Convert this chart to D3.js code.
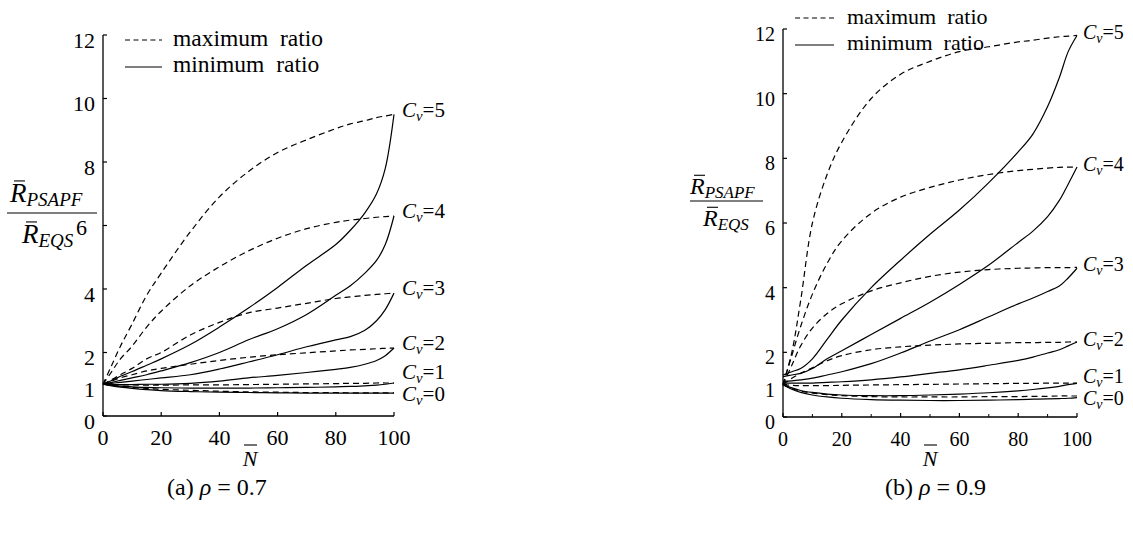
<!DOCTYPE html>
<html><head><meta charset="utf-8">
<script src="https://cdn.jsdelivr.net/npm/d3@7"></script>
<style>
body{margin:0;background:#fff}
svg{display:block;font-family:"Liberation Serif","DejaVu Serif",serif}
text{font-family:"Liberation Serif","DejaVu Serif",serif;fill:#000}
</style>
</head><body>
<svg id="c" width="1133" height="542"></svg>
<script>
// ---------- data ----------
const nGrid = [0,3,6,10,15,20,30,40,50,60,70,80,85,90,94,97,100];
const cvLevels = [5,4,3,2,1,0];

// (a) rho = 0.7 : maximum ratio (dashed)
const aMax5 = [1,1.6,2.2,2.9,3.8,4.5,5.8,6.9,7.7,8.3,8.7,9.05,9.2,9.3,9.4,9.45,9.5];
const aMax4 = [1,1.4,1.8,2.2,2.8,3.3,4.1,4.7,5.2,5.6,5.9,6.1,6.17,6.22,6.26,6.28,6.3];
const aMax3 = [1,1.15,1.3,1.5,1.8,2.0,2.55,2.95,3.25,3.4,3.55,3.7,3.75,3.8,3.83,3.85,3.87];
const aMax2 = [1,1.1,1.2,1.3,1.42,1.5,1.63,1.75,1.85,1.93,1.99,2.05,2.08,2.1,2.12,2.13,2.14];
const aMax1 = [1,0.99,0.98,0.98,0.97,0.97,0.98,0.98,0.99,1.0,1.01,1.02,1.03,1.03,1.04,1.04,1.04];
const aMax0 = [1,0.96,0.93,0.9,0.87,0.84,0.81,0.78,0.76,0.75,0.74,0.74,0.73,0.73,0.73,0.73,0.73];
// (a) rho = 0.7 : minimum ratio (solid)
const aMin5 = [1,1.12,1.25,1.4,1.6,1.8,2.25,2.8,3.4,4.05,4.75,5.4,5.85,6.4,7.0,7.8,9.5];
const aMin4 = [1,1.06,1.12,1.2,1.3,1.42,1.68,2.0,2.4,2.75,3.2,3.8,4.1,4.5,4.9,5.4,6.3];
const aMin3 = [1,1.03,1.06,1.1,1.15,1.2,1.3,1.48,1.7,1.93,2.18,2.4,2.5,2.7,3.0,3.35,3.87];
const aMin2 = [1,0.99,0.99,0.99,1.0,1.0,1.03,1.1,1.2,1.28,1.37,1.47,1.53,1.63,1.75,1.9,2.14];
const aMin1 = [1,0.97,0.94,0.92,0.9,0.89,0.88,0.88,0.88,0.89,0.9,0.92,0.93,0.95,0.97,1.0,1.04];
const aMin0 = [1,0.95,0.91,0.87,0.83,0.8,0.77,0.75,0.74,0.73,0.72,0.72,0.72,0.72,0.72,0.72,0.72];

// (b) rho = 0.9 : maximum ratio (dashed)
const bMax5 = [1,2.0,3.6,6.0,7.5,8.5,9.85,10.6,11.0,11.3,11.45,11.6,11.65,11.72,11.76,11.78,11.8];
const bMax4 = [1,1.9,2.8,3.8,4.75,5.45,6.3,6.8,7.1,7.33,7.5,7.62,7.66,7.7,7.72,7.73,7.73];
const bMax3 = [1,1.6,2.2,2.75,3.2,3.5,3.9,4.15,4.35,4.48,4.56,4.6,4.61,4.62,4.62,4.62,4.63];
const bMax2 = [1,1.2,1.35,1.52,1.74,1.9,2.08,2.17,2.22,2.26,2.28,2.3,2.3,2.31,2.31,2.32,2.32];
const bMax1 = [1,0.98,0.97,0.97,0.97,0.98,0.99,1.0,1.01,1.02,1.03,1.04,1.04,1.05,1.05,1.05,1.05];
const bMax0 = [1,0.88,0.8,0.74,0.69,0.66,0.63,0.62,0.62,0.62,0.63,0.63,0.64,0.64,0.65,0.65,0.65];
// (b) rho = 0.9 : minimum ratio (solid)
const bMin5 = [1.3,1.4,1.5,1.8,2.4,3.0,4.0,4.85,5.65,6.4,7.25,8.2,8.75,9.6,10.5,11.3,11.8];
const bMin4 = [1.25,1.3,1.35,1.5,1.8,2.05,2.55,3.05,3.55,4.1,4.7,5.4,5.75,6.2,6.7,7.2,7.73];
const bMin3 = [1.1,1.12,1.15,1.2,1.3,1.4,1.65,1.98,2.35,2.7,3.1,3.5,3.68,3.88,4.05,4.3,4.6];
const bMin2 = [1.05,1.05,1.05,1.05,1.07,1.09,1.15,1.24,1.35,1.46,1.6,1.75,1.85,1.98,2.08,2.2,2.32];
const bMin1 = [1,0.9,0.82,0.76,0.71,0.68,0.66,0.66,0.68,0.71,0.75,0.81,0.85,0.9,0.95,1.0,1.04];
const bMin0 = [1,0.86,0.76,0.68,0.62,0.58,0.54,0.52,0.51,0.51,0.52,0.54,0.55,0.56,0.57,0.58,0.6];

const xTicks = [0,20,40,60,80,100];
const xMinorTicks = [10,30,50,70,90];
const yTicks = [0,1,2,4,6,8,10,12];
const legendLabels = ["maximum  ratio","minimum  ratio"];
const captionTags = ["(a)","(b)"];
const rhoValues = ["0.7","0.9"];
const numeratorSub = "PSAPF";
const denominatorSub = "EQS";
const xLabel = "N";

// ---------- drawing ----------
const svg = d3.select("#c");

const panels = [
  {
    maxS:[aMax5,aMax4,aMax3,aMax2,aMax1,aMax0], minS:[aMin5,aMin4,aMin3,aMin2,aMin1,aMin0],
    xr:[103,394], yr:[416,35], minor:false, tickFont:22, labFont:21, labX:402, labOff:-4,
    six:-8, sixUp:-3,
    legend:{x0:125,x1:162,tx:173,y1:40,b1:46,y2:67,b2:72,fs:23.5},
    ylab:{nx:10,nb:202,fx0:7,fx1:97,fy:213,dx:22,db:243,fsR:27,fsS:19},
    nlab:{x:250,b:466},
    cap:{x:167,b:495}
  },
  {
    maxS:[bMax5,bMax4,bMax3,bMax2,bMax1,bMax0], minS:[bMin5,bMin4,bMin3,bMin2,bMin1,bMin0],
    xr:[783,1077], yr:[417,29], minor:true, tickFont:20, labFont:20, labX:1083, labOff:-2,
    six:0, sixUp:0,
    legend:{x0:795,x1:834,tx:847,y1:18,b1:24,y2:45,b2:50,fs:22},
    ylab:{nx:690,nb:194,fx0:690,fx1:763,fy:201,dx:703,db:226,fsR:24,fsS:17},
    nlab:{x:930,b:466},
    cap:{x:885,b:495}
  }
];

panels.forEach((p,pi)=>{
  const x = d3.scaleLinear().domain([0,100]).range(p.xr);
  const y = d3.scaleLinear().domain([0,12]).range(p.yr);
  const g = svg.append("g");

  // axes lines
  g.append("line").attr("x1",x(0)).attr("x2",x(0)).attr("y1",y(0)).attr("y2",y(12))
    .attr("stroke","#000").attr("stroke-width",1.3);
  g.append("line").attr("x1",x(0)).attr("x2",x(100)).attr("y1",y(0)).attr("y2",y(0))
    .attr("stroke","#000").attr("stroke-width",1.3);

  // y ticks
  yTicks.forEach(t=>{
    g.append("line").attr("x1",x(0)).attr("x2",x(0)+4).attr("y1",y(t)).attr("y2",y(t))
      .attr("stroke","#000").attr("stroke-width",1.2);
    g.append("text").attr("x",x(0)-8 + (t===6?p.six:0)).attr("y",y(t)+5 + (t===6?p.sixUp:0))
      .attr("dy","0.35em").attr("text-anchor","end").attr("font-size",p.tickFont).text(t);
  });
  // x ticks
  xTicks.forEach(t=>{
    g.append("line").attr("x1",x(t)).attr("x2",x(t)).attr("y1",y(0)).attr("y2",y(0)-4)
      .attr("stroke","#000").attr("stroke-width",1.2);
    g.append("text").attr("x",x(t)).attr("y",y(0)+29)
      .attr("text-anchor","middle").attr("font-size",p.tickFont).text(t);
  });
  if(p.minor){
    xMinorTicks.forEach(t=>{
      g.append("line").attr("x1",x(t)).attr("x2",x(t)).attr("y1",y(0)).attr("y2",y(0)-3)
        .attr("stroke","#000").attr("stroke-width",1);
    });
  }

  // curves
  const line = d3.line().x((d,i)=>x(nGrid[i])).y(d=>y(d)).curve(d3.curveCatmullRom.alpha(0.5));
  p.maxS.forEach(s=>{
    g.append("path").attr("d",line(s)).attr("fill","none").attr("stroke","#000")
      .attr("stroke-width",1.2).attr("stroke-dasharray","6,4");
  });
  p.minS.forEach(s=>{
    g.append("path").attr("d",line(s)).attr("fill","none").attr("stroke","#000")
      .attr("stroke-width",1.2);
  });

  // curve labels with simple collision relaxation
  let labs = cvLevels.map((c,i)=>({c, y: y(p.maxS[i][p.maxS[i].length-1]) + p.labOff}));
  for(let it=0; it<30; it++){
    for(let i=0;i<labs.length-1;i++){
      const a=labs[i], b=labs[i+1], gap=22;
      if(b.y - a.y < gap){ const m=(a.y+b.y)/2; a.y=m-gap/2; b.y=m+gap/2; }
    }
  }
  labs.forEach(l=>{
    const t = g.append("text").attr("x",p.labX).attr("y",l.y).attr("dy","0.3em")
      .attr("font-size",p.labFont);
    t.append("tspan").attr("font-style","italic").text("C");
    t.append("tspan").attr("font-style","italic").attr("font-size",p.labFont*0.7)
      .attr("dy",4).text("ν");
    t.append("tspan").attr("dy",-4).text("=" + l.c);
  });

  // legend
  const L = p.legend;
  g.append("line").attr("x1",L.x0).attr("x2",L.x1).attr("y1",L.y1).attr("y2",L.y1)
    .attr("stroke","#000").attr("stroke-width",1).attr("stroke-dasharray","5,3.5");
  g.append("text").attr("x",L.tx).attr("y",L.b1).attr("font-size",L.fs)
    .style("white-space","pre").text(legendLabels[0]);
  g.append("line").attr("x1",L.x0).attr("x2",L.x1).attr("y1",L.y2).attr("y2",L.y2)
    .attr("stroke","#000").attr("stroke-width",1.2);
  g.append("text").attr("x",L.tx).attr("y",L.b2).attr("font-size",L.fs)
    .style("white-space","pre").text(legendLabels[1]);

  // y label (fraction)
  const Y = p.ylab;
  const num = g.append("text").attr("x",Y.nx).attr("y",Y.nb);
  num.append("tspan").attr("font-style","italic").attr("font-size",Y.fsR).text("R");
  num.append("tspan").attr("font-style","italic").attr("font-size",Y.fsS).attr("dy",4).text(numeratorSub);
  g.append("line").attr("x1",Y.nx+4).attr("x2",Y.nx+15).attr("y1",Y.nb-Y.fsR*0.78).attr("y2",Y.nb-Y.fsR*0.78)
    .attr("stroke","#000").attr("stroke-width",1.1);
  g.append("line").attr("x1",Y.fx0).attr("x2",Y.fx1).attr("y1",Y.fy).attr("y2",Y.fy)
    .attr("stroke","#000").attr("stroke-width",1.2);
  const den = g.append("text").attr("x",Y.dx).attr("y",Y.db);
  den.append("tspan").attr("font-style","italic").attr("font-size",Y.fsR).text("R");
  den.append("tspan").attr("font-style","italic").attr("font-size",Y.fsS).attr("dy",4).text(denominatorSub);
  g.append("line").attr("x1",Y.dx+4).attr("x2",Y.dx+15).attr("y1",Y.db-Y.fsR*0.78).attr("y2",Y.db-Y.fsR*0.78)
    .attr("stroke","#000").attr("stroke-width",1.1);

  // x label N with overbar
  g.append("text").attr("x",p.nlab.x).attr("y",p.nlab.b).attr("text-anchor","middle")
    .attr("font-style","italic").attr("font-size",22).text(xLabel);
  g.append("line").attr("x1",p.nlab.x-6).attr("x2",p.nlab.x+7).attr("y1",p.nlab.b-21).attr("y2",p.nlab.b-21)
    .attr("stroke","#000").attr("stroke-width",1.1);

  // caption
  const cap = g.append("text").attr("x",p.cap.x).attr("y",p.cap.b).attr("font-size",24)
    .style("white-space","pre");
  cap.append("tspan").text(captionTags[pi] + " ");
  cap.append("tspan").attr("font-style","italic").text("ρ");
  cap.append("tspan").text(" = " + rhoValues[pi]);
});
</script>
</body></html>
